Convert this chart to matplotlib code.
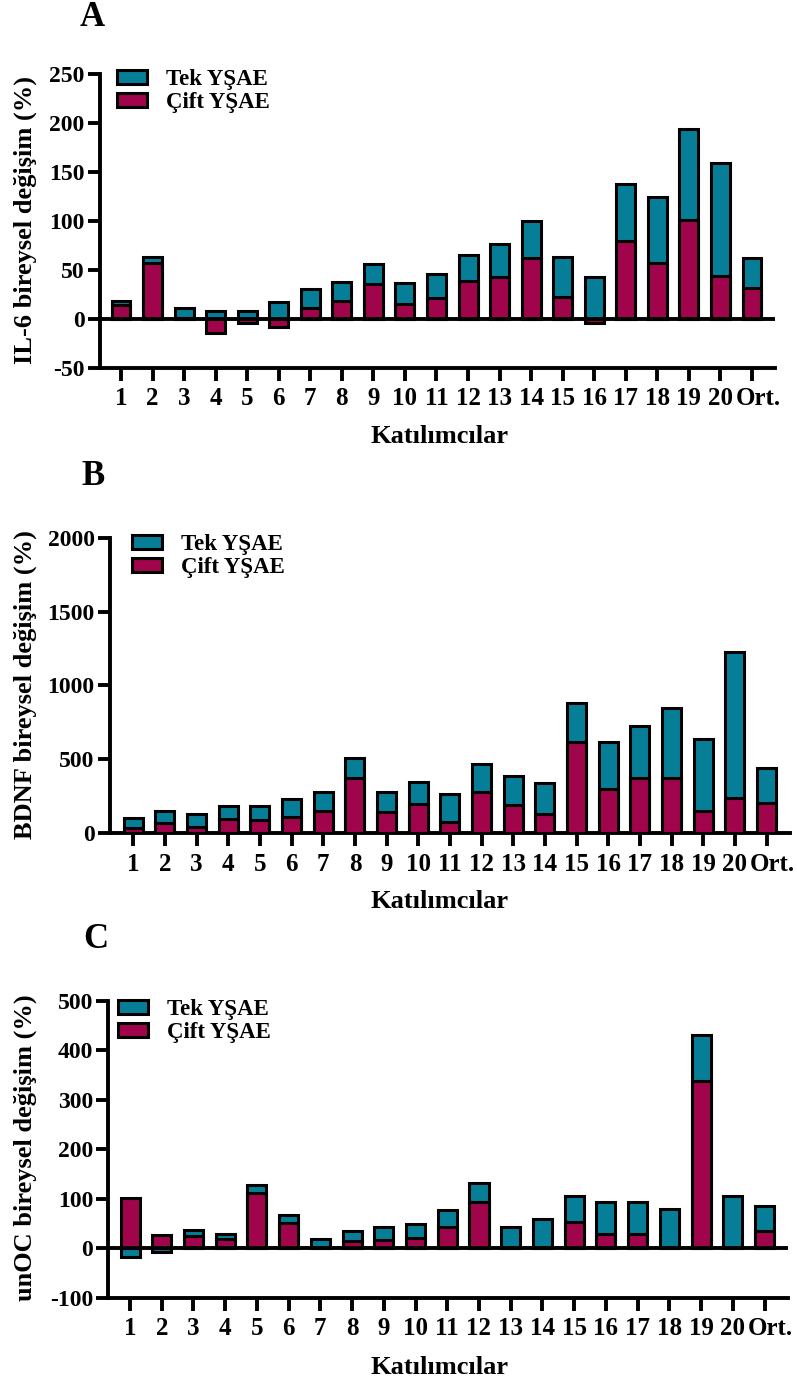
import matplotlib
matplotlib.use("Agg")
import matplotlib.pyplot as plt
import matplotlib.transforms as mtransforms
import numpy as np
from matplotlib.patches import Patch

plt.rcParams['font.family'] = ['Liberation Serif', 'DejaVu Serif']
plt.rcParams['font.weight'] = 'bold'

categories = [str(i) for i in range(1, 21)] + ['Ort.']

il6_tek = [18, 63, 11, 8.5, 8.5, 17, 30.5, 37.5, 56, 36.5, 45.5, 65, 77, 100, 63, 43, 137.5, 125, 194, 159.5, 62.5]
il6_cift = [14, 57, 1, -14, -4, -8, 11.5, 18.5, 35.5, 15, 21, 39, 42.5, 62.5, 22, -4, 79.5, 57.5, 101, 44, 31.5]

bdnf_tek = [101, 153, 131, 185, 187, 230, 277, 507, 282, 350, 264, 467, 388, 338, 880, 620, 729, 846, 638, 1229, 440]
bdnf_cift = [34, 68, 41, 97, 92, 108, 153, 372, 142, 198, 79, 277, 192, 131, 616, 298, 372, 372, 153, 237, 203]

unoc_tek = [-17, -7, 37, 29, 127, 67, 19, 35, 42, 49, 77, 131, 42, 58.5, 106, 93, 94, 79, 430, 106, 85]
unoc_cift = [102, 26, 25, 18, 112, 50, 0, 15, 17, 20, 42, 93, 0, 0, 52, 28, 28, 0, 338, 0, 34]

TEAL = '#077E97'
CRIMSON = '#A0044A'

fig = plt.figure(figsize=(7.97, 13.82), dpi=100)

panels = [
    dict(letter='A', tek=il6_tek, cift=il6_cift, ylabel='IL-6 bireysel değişim (%)',
         ylim=(-50, 250), yticks=[-50, 0, 50, 100, 150, 200, 250],
         rect=[100/797, 1 - 368/1382, 675/797, 294/1382], xlim=(0.334, 21.73),
         letter_xy=(92/797, 1 - 17/1382), leg=(117, 69), xlab_y=437, ylab_y=220),
    dict(letter='B', tek=bdnf_tek, cift=bdnf_cift, ylabel='BDNF bireysel değişim (%)',
         ylim=(0, 2000), yticks=[0, 500, 1000, 1500, 2000],
         rect=[110/797, 1 - 833.3/1382, 680/797, 295.6/1382], xlim=(0.264, 21.74),
         letter_xy=(93/797, 1 - 477/1382), leg=(132, 534), xlab_y=902, ylab_y=685),
    dict(letter='C', tek=unoc_tek, cift=unoc_cift, ylabel='unOC bireysel değişim (%)',
         ylim=(-100, 500), yticks=[-100, 0, 100, 200, 300, 400, 500],
         rect=[108.3/797, 1 - 1297.7/1382, 680/797, 297/1382], xlim=(0.315, 21.75),
         letter_xy=(96/797, 1 - 939/1382), leg=(118, 999), xlab_y=1368, ylab_y=1148),
]

for p in panels:
    ax = fig.add_axes(p['rect'])
    x = np.arange(1, len(categories) + 1)
    ax.bar(x, p['tek'], width=0.6, color=TEAL, edgecolor='black', linewidth=2.2, zorder=2)
    ax.bar(x, p['cift'], width=0.6, color=CRIMSON, edgecolor='black', linewidth=2.2, zorder=3)
    if p['ylim'][0] < 0:
        ax.axhline(0, color='black', linewidth=2.8, zorder=4)
    ax.set_xlim(*p['xlim'])
    ax.set_ylim(*p['ylim'])
    ax.set_yticks(p['yticks'])
    ax.set_yticklabels([str(v) for v in p['yticks']])
    ax.set_xticks(x)
    ax.set_xticklabels(categories)
    for s in ['top', 'right']:
        ax.spines[s].set_visible(False)
    for s in ['left', 'bottom']:
        ax.spines[s].set_linewidth(2.8)
    ax.tick_params(axis='both', width=2.8, length=9, direction='out')
    ax.tick_params(axis='x', pad=5, labelsize=18)
    ax.tick_params(axis='y', pad=2, labelsize=17)
    for lab in ax.get_xticklabels() + ax.get_yticklabels():
        lab.set_fontweight('bold')
    last = ax.get_xticklabels()[-1]
    last.set_transform(last.get_transform() +
                       mtransforms.ScaledTranslation(6 / 100, 0, fig.dpi_scale_trans))
    fig.text(25 / 797, 1 - p['ylab_y'] / 1382, p['ylabel'], fontsize=19, fontweight='bold',
             rotation=90, ha='center', va='center')
    fig.text(440 / 797, 1 - p['xlab_y'] / 1382, 'Katılımcılar', fontsize=19,
             fontweight='bold', ha='center', va='center')
    fig.text(p['letter_xy'][0], p['letter_xy'][1], p['letter'], fontsize=25,
             fontweight='bold', ha='center', va='center')
    handles = [Patch(facecolor=TEAL, edgecolor='black', linewidth=2.2, label='Tek YŞAE'),
               Patch(facecolor=CRIMSON, edgecolor='black', linewidth=2.2, label='Çift YŞAE')]
    lx, ly = p['leg']
    ax.legend(handles=handles, loc='upper left',
              bbox_to_anchor=(lx / 797, 1 - ly / 1382), bbox_transform=fig.transFigure,
              frameon=False, borderaxespad=0, borderpad=0, handlelength=1.3, handleheight=0.6,
              handletextpad=0.85, labelspacing=0.1, prop={'size': 16.5, 'weight': 'bold'})

fig.savefig('out.png', dpi=100)
